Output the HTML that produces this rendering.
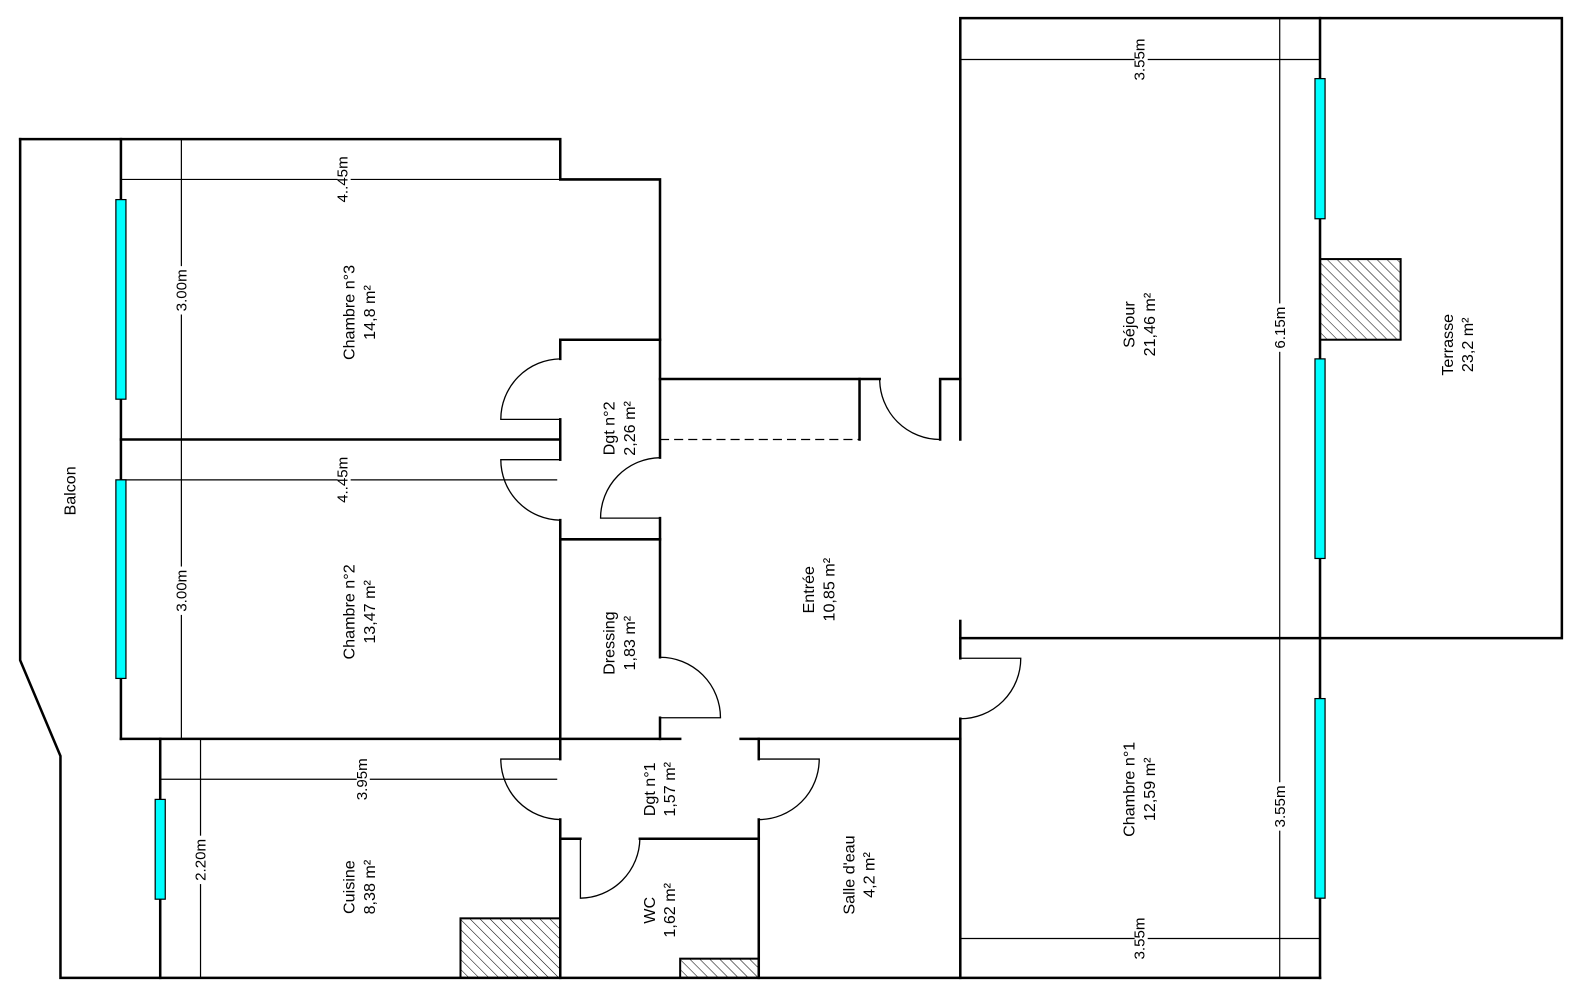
<!DOCTYPE html>
<html><head><meta charset="utf-8"><style>
html,body{margin:0;padding:0;background:#fff;}
svg{display:block}
text{font-family:"Liberation Sans",Arial,sans-serif;fill:#000}
</style></head><body>
<svg width="1580" height="1000" viewBox="0 0 1568 992" preserveAspectRatio="none" xmlns="http://www.w3.org/2000/svg">
<defs>
<pattern id="h" width="7" height="7" patternUnits="userSpaceOnUse" patternTransform="rotate(-45)">
<rect width="7" height="7" fill="#fff"/><line x1="0" y1="0" x2="0" y2="7" stroke="#000" stroke-width="1"/>
</pattern>
</defs>
<g stroke="#000" stroke-width="1.2" fill="none">
<line x1="120" y1="178" x2="556" y2="178"/>
<line x1="180" y1="138" x2="180" y2="733"/>
<line x1="120" y1="476" x2="553" y2="476"/>
<line x1="159" y1="773" x2="553" y2="773"/>
<line x1="199" y1="733" x2="199" y2="970"/>
<line x1="953" y1="59" x2="1310" y2="59"/>
<line x1="1270" y1="18" x2="1270" y2="970"/>
<line x1="953" y1="931" x2="1310" y2="931"/>
<line x1="655" y1="436" x2="853" y2="436" stroke-dasharray="9,5"/>
</g>
<g stroke="#000" stroke-width="2">
<rect x="457" y="911" width="99" height="59" fill="url(#h)"/>
<rect x="675" y="951" width="78" height="19" fill="url(#h)"/>
<rect x="1310" y="257" width="80" height="80" fill="url(#h)"/>
</g>
<g stroke="#000" stroke-width="2.5" fill="none" stroke-linecap="square">
<polyline points="20,138 20,655 60,750 60,970 1310,970"/>
<polyline points="20,138 556,138 556,178 655,178 655,454"/>
<line x1="120" y1="138" x2="120" y2="733"/>
<line x1="120" y1="436" x2="556" y2="436"/>
<line x1="120" y1="733" x2="675" y2="733"/>
<line x1="159" y1="733" x2="159" y2="970"/>
<polyline points="556,356 556,337 655,337"/>
<line x1="556" y1="416" x2="556" y2="456"/>
<polyline points="556,516 556,535 655,535"/>
<line x1="556" y1="535" x2="556" y2="753"/>
<polyline points="655,514 655,652"/>
<line x1="655" y1="712" x2="655" y2="733"/>
<polyline points="556,813 556,970"/>
<line x1="556" y1="832" x2="576" y2="832"/>
<line x1="635" y1="832" x2="753" y2="832"/>
<polyline points="735,733 753,733 753,753"/>
<line x1="753" y1="813" x2="753" y2="970"/>
<line x1="753" y1="733" x2="953" y2="733"/>
<line x1="953" y1="713" x2="953" y2="970"/>
<polyline points="953,616 953,653"/>
<polyline points="953,436 953,18 1550,18 1550,633 953,633"/>
<line x1="1310" y1="18" x2="1310" y2="970"/>
<polyline points="655,376 873,376"/>
<line x1="853" y1="376" x2="853" y2="436"/>
<polyline points="933,436 933,376 953,376"/>
</g>
<g stroke="#000" stroke-width="1.3" fill="none">
<path d="M556,356 A60,60 0 0 0 497,416 L556,416"/>
<path d="M556,456 L497,456 A60,60 0 0 0 556,516"/>
<path d="M655,454 A60,60 0 0 0 596,514 L655,514"/>
<path d="M655,652 A60,60 0 0 1 715,712 L655,712"/>
<path d="M556,753 L497,753 A60,60 0 0 0 556,813"/>
<path d="M576,832 L576,891 A60,60 0 0 0 635,832"/>
<path d="M753,753 L813,753 A60,60 0 0 1 753,813"/>
<path d="M953,653 L1013,653 A60,60 0 0 1 953,713"/>
<path d="M873,376 A60,60 0 0 0 933,436"/>
</g>
<g fill="#00ffff" stroke="#000" stroke-width="1.2">
<rect x="115" y="198" width="10" height="198"/>
<rect x="115" y="476" width="10" height="197"/>
<rect x="154" y="793" width="10" height="99"/>
<rect x="1305" y="78" width="10" height="139"/>
<rect x="1305" y="356" width="10" height="198"/>
<rect x="1305" y="693" width="10" height="198"/>
</g>
<g font-size="15" text-anchor="middle">
<g transform="translate(345,178) rotate(-90)"><rect x="-24" y="-10" width="48" height="13" fill="#fff"/><text y="0">4..45m</text></g>
<g transform="translate(185,288) rotate(-90)"><rect x="-24" y="-10" width="48" height="13" fill="#fff"/><text y="0">3.00m</text></g>
<g transform="translate(185,586) rotate(-90)"><rect x="-24" y="-10" width="48" height="13" fill="#fff"/><text y="0">3.00m</text></g>
<g transform="translate(345,476) rotate(-90)"><rect x="-24" y="-10" width="48" height="13" fill="#fff"/><text y="0">4..45m</text></g>
<g transform="translate(364,773) rotate(-90)"><rect x="-24" y="-10" width="48" height="13" fill="#fff"/><text y="0">3.95m</text></g>
<g transform="translate(204,853) rotate(-90)"><rect x="-24" y="-10" width="48" height="13" fill="#fff"/><text y="0">2.20m</text></g>
<g transform="translate(1136,59) rotate(-90)"><rect x="-24" y="-10" width="48" height="13" fill="#fff"/><text y="0">3.55m</text></g>
<g transform="translate(1275,325) rotate(-90)"><rect x="-24" y="-10" width="48" height="13" fill="#fff"/><text y="0">6.15m</text></g>
<g transform="translate(1275,800) rotate(-90)"><rect x="-24" y="-10" width="48" height="13" fill="#fff"/><text y="0">3.55m</text></g>
<g transform="translate(1136,931) rotate(-90)"><rect x="-24" y="-10" width="48" height="13" fill="#fff"/><text y="0">3.55m</text></g>
</g>
<g font-size="16" text-anchor="middle">
<text transform="translate(352,310) rotate(-90)"><tspan x="0" y="0">Chambre n°3</tspan><tspan x="0" y="20">14,8  m²</tspan></text>
<text transform="translate(610,425) rotate(-90)"><tspan x="0" y="0">Dgt n°2</tspan><tspan x="0" y="20">2,26  m²</tspan></text>
<text transform="translate(352,607) rotate(-90)"><tspan x="0" y="0">Chambre n°2</tspan><tspan x="0" y="20">13,47  m²</tspan></text>
<text transform="translate(808,585) rotate(-90)"><tspan x="0" y="0">Entrée</tspan><tspan x="0" y="20">10,85  m²</tspan></text>
<text transform="translate(610,638) rotate(-90)"><tspan x="0" y="0">Dressing</tspan><tspan x="0" y="20">1,83  m²</tspan></text>
<text transform="translate(650,783) rotate(-90)"><tspan x="0" y="0">Dgt n°1</tspan><tspan x="0" y="20">1,57  m²</tspan></text>
<text transform="translate(352,880) rotate(-90)"><tspan x="0" y="0">Cuisine</tspan><tspan x="0" y="20">8,38  m²</tspan></text>
<text transform="translate(650,903) rotate(-90)"><tspan x="0" y="0">WC</tspan><tspan x="0" y="20">1,62  m²</tspan></text>
<text transform="translate(848,868) rotate(-90)"><tspan x="0" y="0">Salle d'eau</tspan><tspan x="0" y="20">4,2  m²</tspan></text>
<text transform="translate(1126,783) rotate(-90)"><tspan x="0" y="0">Chambre n°1</tspan><tspan x="0" y="20">12,59  m²</tspan></text>
<text transform="translate(1126,322) rotate(-90)"><tspan x="0" y="0">Séjour</tspan><tspan x="0" y="20">21,46  m²</tspan></text>
<text transform="translate(1442,342) rotate(-90)"><tspan x="0" y="0">Terrasse</tspan><tspan x="0" y="20">23,2  m²</tspan></text>
<text transform="translate(75,487) rotate(-90)"><tspan x="0" y="0">Balcon</tspan></text>
</g>
</svg>
</body></html>
